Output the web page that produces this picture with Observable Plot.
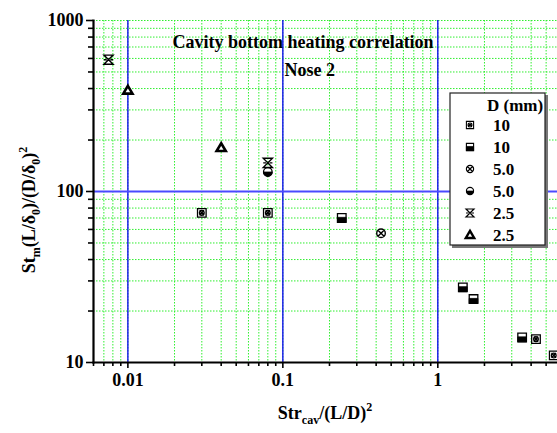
<!DOCTYPE html>
<html>
<head>
<meta charset="utf-8">
<script src="https://cdn.jsdelivr.net/npm/d3@7"></script>
<script src="https://cdn.jsdelivr.net/npm/@observablehq/plot@0.6"></script>
<style>
  html, body { margin: 0; padding: 0; background: #fff; }
  #chart { width: 557px; height: 433px; }
</style>
</head>
<body>
<div id="chart"></div>
<script>
// ---- data ----
const legendTitle = "D (mm)";
const seriesLabels = ["10", "10", "5.0", "5.0", "2.5", "2.5"];
const seriesSymbols = ["crossSquare", "halfSquare", "circleX", "halfCircle", "hourglass", "triangle"];

const s1x = [0.03, 0.08, 4.3, 5.6];
const s1y = [75, 75, 13.7, 11];
const s2x = [0.24, 1.45, 1.7, 3.5];
const s2y = [70, 27.5, 23.5, 14];
const s3x = [0.43];
const s3y = [57];
const s4x = [0.08];
const s4y = [130];
const s5x = [0.0075, 0.08];
const s5y = [590, 147];
const s6x = [0.01, 0.04];
const s6y = [390, 180];

const xDomain = [0.006, 5.92];
const yDomain = [10, 1000];
const xMajor = [0.01, 0.1, 1];
const xMajorLabels = ["0.01", "0.1", "1"];
const xMinor = [0.006, 0.007, 0.008, 0.009, 0.02, 0.03, 0.04, 0.05, 0.06, 0.07, 0.08, 0.09,
                0.2, 0.3, 0.4, 0.5, 0.6, 0.7, 0.8, 0.9, 2, 3, 4, 5];
const yMajor = [10, 100, 1000];
const yMajorLabels = ["10", "100", "1000"];
const yMinor = [20, 30, 40, 50, 60, 70, 80, 90, 200, 300, 400, 500, 600, 700, 800, 900];

const titleText = "Cavity bottom heating correlation";
const subtitleText = "Nose 2";

// ---- build table ----
const xs = [s1x, s2x, s3x, s4x, s5x, s6x];
const ys = [s1y, s2y, s3y, s4y, s5y, s6y];
const rows = [];
xs.forEach((arr, i) => arr.forEach((x, j) => rows.push({x, y: ys[i][j], s: i})));
const bySym = name => rows.filter(d => seriesSymbols[d.s] === name);

// ---- custom symbols (r = half size) ----
const rOf = size => Math.sqrt(size / Math.PI);
const sym = {
  squareOutline: {draw(c, size) { const r = rOf(size); c.moveTo(-r, -r); c.lineTo(r, -r); c.lineTo(r, r); c.lineTo(-r, r); c.closePath(); }},
  crossSquare: {draw(c, size) {
    const r = rOf(size);
    c.moveTo(-r, -r); c.lineTo(r, -r); c.lineTo(r, r); c.lineTo(-r, r); c.closePath();
    const k = r * 0.55;
    c.moveTo(-k, -k); c.lineTo(k, k); c.moveTo(k, -k); c.lineTo(-k, k);
    c.moveTo(k, 0); c.arc(0, 0, k, 0, 2 * Math.PI);
  }},
  bottomHalfSquare: {draw(c, size) { const r = rOf(size); c.moveTo(-r, -0.15 * r); c.lineTo(r, -0.15 * r); c.lineTo(r, r); c.lineTo(-r, r); c.closePath(); }},
  circleX: {draw(c, size) {
    const r = rOf(size);
    c.moveTo(r, 0); c.arc(0, 0, r, 0, 2 * Math.PI);
    const k = r * 0.7;
    c.moveTo(-k, -k); c.lineTo(k, k); c.moveTo(k, -k); c.lineTo(-k, k);
  }},
  circleOutline: {draw(c, size) { const r = rOf(size); c.moveTo(r, 0); c.arc(0, 0, r, 0, 2 * Math.PI); }},
  bottomHalfCircle: {draw(c, size) { const r = rOf(size); c.moveTo(r, 0); c.arc(0, 0, r, 0, Math.PI); c.closePath(); }},
  hourglass: {draw(c, size) {
    const r = rOf(size);
    c.moveTo(-r, -r); c.lineTo(r, -r); c.lineTo(-r, r); c.lineTo(r, r); c.closePath();
    c.moveTo(-r, 0); c.lineTo(-r * 0.4, 0); c.moveTo(r * 0.4, 0); c.lineTo(r, 0);
  }},
  triangle: {draw(c, size) { const r = rOf(size); c.moveTo(0, -r); c.lineTo(r * 1.0, r * 0.7); c.lineTo(-r * 1.0, r * 0.7); c.closePath(); }}
};

// marks for each legend symbol type
function symbolMarks(name, data) {
  const base = {x: "x", y: "y", clip: true};
  switch (name) {
    case "crossSquare": return [Plot.dot(data, {...base, symbol: sym.crossSquare, r: 4.3, fill: "white", stroke: "black", strokeWidth: 1.3})];
    case "halfSquare": return [
      Plot.dot(data, {...base, symbol: sym.squareOutline, r: 4.3, fill: "white", stroke: "black", strokeWidth: 1.3}),
      Plot.dot(data, {...base, symbol: sym.bottomHalfSquare, r: 4.3, fill: "black", stroke: "black", strokeWidth: 0.8})];
    case "circleX": return [Plot.dot(data, {...base, symbol: sym.circleX, r: 4.3, fill: "white", stroke: "black", strokeWidth: 1.4})];
    case "halfCircle": return [
      Plot.dot(data, {...base, symbol: sym.circleOutline, r: 4.3, fill: "white", stroke: "black", strokeWidth: 1.3}),
      Plot.dot(data, {...base, symbol: sym.bottomHalfCircle, r: 4.3, fill: "black", stroke: "black", strokeWidth: 0.8})];
    case "hourglass": return [Plot.dot(data, {...base, symbol: sym.hourglass, r: 4.6, fill: "none", stroke: "black", strokeWidth: 1.4})];
    case "triangle": return [Plot.dot(data, {...base, symbol: sym.triangle, r: 4.6, fill: "white", stroke: "black", strokeWidth: 2.6})];
  }
  return [];
}

const serif = "'Liberation Serif', 'Times New Roman', serif";
const green = "#2fef2f";

const plot = Plot.plot({
  width: 557,
  height: 433,
  marginLeft: 93,
  marginRight: 0,
  marginTop: 20,
  marginBottom: 71,
  style: {fontFamily: serif, fontWeight: "bold", fontSize: "18px", background: "white", color: "black"},
  x: {type: "log", domain: xDomain, label: null},
  y: {type: "log", domain: yDomain, label: null},
  marks: [
    // green dotted grid
    Plot.ruleX(xMinor.concat(xMajor), {stroke: green, strokeWidth: 1, strokeDasharray: "1.5,1.5"}),
    Plot.ruleY(yMinor.concat(yMajor), {stroke: green, strokeWidth: 1, strokeDasharray: "1.5,1.5"}),
    // blue major lines
    Plot.ruleX(xMajor, {stroke: "#1010ee", strokeWidth: 1.4}),
    Plot.ruleY([100], {stroke: "#4a4aff", strokeWidth: 2}),
    // axes
    Plot.axisY(yMajor, {tickSize: 7, tickPadding: 3, strokeWidth: 1.6, tickFormat: (d) => yMajorLabels[yMajor.indexOf(d)], fontSize: 18}),
    Plot.axisY(yMinor, {tickSize: 5, strokeWidth: 1.6, tickFormat: () => ""}),
    Plot.axisX(xMajor, {tickSize: 6, tickPadding: 5, strokeWidth: 1.6, tickFormat: (d) => xMajorLabels[xMajor.indexOf(d)], fontSize: 18}),
    Plot.axisX(xMinor, {tickSize: 4, strokeWidth: 1.6, tickFormat: () => ""}),
    Plot.frame({anchor: "left", stroke: "black", strokeWidth: 2.2}),
    Plot.frame({anchor: "bottom", stroke: "black", strokeWidth: 2.2}),
    // title texts
    Plot.text([titleText], {frameAnchor: "top-left", textAnchor: "start", lineAnchor: "middle", dx: 79, dy: 22, fontSize: 18, fontWeight: "bold", fill: "black"}),
    Plot.text([subtitleText], {frameAnchor: "top-left", textAnchor: "start", lineAnchor: "middle", dx: 191, dy: 50, fontSize: 18, fontWeight: "bold", fill: "black"}),
    // data
    ...seriesSymbols.flatMap(name => symbolMarks(name, bySym(name)))
  ]
});

document.getElementById("chart").appendChild(plot);

// ---- axis labels with sub/superscripts ----
const svg = d3.select(plot);
function rich(textSel, parts) {
  let shift = 0;
  parts.forEach(([str, kind]) => {
    const target = kind === "sub" ? 5 : kind === "sup" ? -8 : 0;
    textSel.append("tspan")
      .attr("dy", target - shift)
      .attr("font-size", kind === "n" ? null : "12px")
      .text(str);
    shift = target;
  });
}
const ylab = svg.append("text")
  .attr("transform", "translate(35,210) rotate(-90)")
  .attr("text-anchor", "middle")
  .attr("font-family", serif).attr("font-weight", "bold").attr("font-size", "18px").attr("fill", "black");
rich(ylab, [["St", "n"], ["m", "sub"], ["(L/δ", "n"], ["0", "sub"], [")/(D/δ", "n"], ["0", "sub"], [")", "n"], ["2", "sup"]]);

const xlab = svg.append("text")
  .attr("x", 325).attr("y", 419)
  .attr("text-anchor", "middle")
  .attr("font-family", serif).attr("font-weight", "bold").attr("font-size", "18px").attr("fill", "black");
rich(xlab, [["Str", "n"], ["cav", "sub"], ["/(L/D)", "n"], ["2", "sup"]]);

// ---- legend ----
const lg = svg.append("g").attr("transform", "translate(450,93)").attr("text-anchor", "start");
lg.append("rect").attr("x", 2).attr("y", 2).attr("width", 96).attr("height", 153).attr("fill", "#777");
lg.append("rect").attr("x", 0).attr("y", 0).attr("width", 95).attr("height", 152).attr("fill", "white").attr("stroke", "#222").attr("stroke-width", 1.2);
lg.append("text").attr("x", 37).attr("y", 18).attr("text-anchor", "start").attr("font-family", serif).attr("font-weight", "bold").attr("font-size", "17px").attr("fill", "black").text(legendTitle);
const legendDraw = {
  crossSquare: [[sym.crossSquare, 3.6, "white", 1.1]],
  halfSquare: [[sym.squareOutline, 3.6, "white", 1.1], [sym.bottomHalfSquare, 3.6, "black", 0.7]],
  circleX: [[sym.circleX, 3.6, "white", 1.2]],
  halfCircle: [[sym.circleOutline, 3.6, "white", 1.1], [sym.bottomHalfCircle, 3.6, "black", 0.7]],
  hourglass: [[sym.hourglass, 4, "none", 1.2]],
  triangle: [[sym.triangle, 4.2, "white", 2.4]]
};
seriesLabels.forEach((label, i) => {
  const cy = 32 + i * 22;
  const g = lg.append("g").attr("transform", `translate(20,${cy})`);
  legendDraw[seriesSymbols[i]].forEach(([s, r, fill, sw]) => {
    g.append("path").attr("d", d3.symbol(s, Math.PI * r * r)()).attr("fill", fill).attr("stroke", "black").attr("stroke-width", sw);
  });
  lg.append("text").attr("x", 43).attr("y", cy + 6).attr("text-anchor", "start").attr("font-family", serif).attr("font-weight", "bold").attr("font-size", "17px").attr("fill", "black").text(label);
});
</script>
</body>
</html>
